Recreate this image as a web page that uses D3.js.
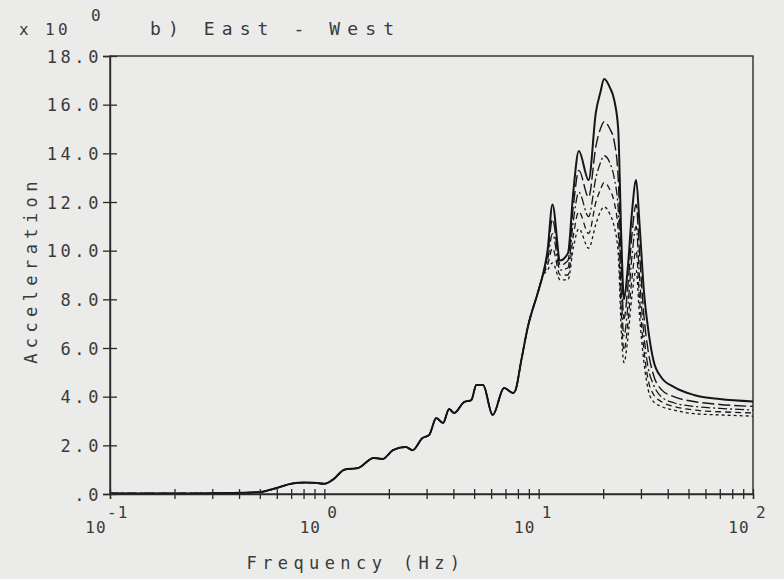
<!DOCTYPE html>
<html>
<head>
<meta charset="utf-8">
<script src="https://cdn.jsdelivr.net/npm/d3@7"></script>
<style>
  html, body { margin: 0; padding: 0; background: #ebebe9; }
  svg { display: block; }
  text { font-family: "DejaVu Sans Mono", monospace; fill: #3a3a3a; }
</style>
</head>
<body>
<svg id="chart" width="784" height="579"></svg>
<script>
// Response spectrum, East-West component (frequency in Hz, acceleration x 10^0)

// Shared low-frequency part: all damping curves coincide below ~10 Hz
const baseFreq = [0.1, 0.2, 0.3, 0.4, 0.5, 0.6, 0.7, 0.8, 0.9, 1.0, 1.1, 1.24, 1.44, 1.7, 1.87,
  2.09, 2.4, 2.58, 2.87, 3.08, 3.33, 3.58, 3.82, 4.03, 4.49, 4.85, 5.12, 5.5, 6.1, 6.9,
  7.6, 7.8, 8.3, 8.9, 9.9, 10.4];
const baseAccel = [0.02, 0.02, 0.03, 0.05, 0.08, 0.25, 0.42, 0.47, 0.46, 0.42, 0.6, 1.0, 1.07, 1.48, 1.44,
  1.8, 1.93, 1.8, 2.3, 2.42, 3.12, 2.92, 3.49, 3.33, 3.78, 3.86, 4.48, 4.48, 3.25, 4.36,
  4.15, 4.27, 5.5, 6.86, 8.26, 8.92];

// High-frequency part, where the curves separate
const highFreq = [11.0, 11.6, 12.6, 13.7, 14.5, 15.4, 17.1, 18.5, 19.4, 20.2, 21.5, 22.5, 23.5, 24.3,
  25.0, 26.0, 27.2, 28.5, 29.5, 31.0, 32.4, 34.3, 37.3, 42.7, 53, 70, 100];
const accelSolid = [10.0, 11.9, 9.6, 9.9, 12.4, 14.1, 12.9, 15.7, 16.5, 17.05, 16.7, 16.2, 15.0, 10.5,
  8.0, 9.2, 11.5, 12.9, 11.2, 8.3, 6.8, 5.5, 4.8, 4.4, 4.07, 3.9, 3.8];
const accelLongDash = [9.8, 11.3, 9.4, 9.6, 11.8, 13.3, 12.2, 14.3, 15.0, 15.3, 15.0, 14.5, 13.0, 9.2,
  7.2, 8.4, 10.6, 11.9, 10.0, 7.3, 5.9, 4.9, 4.3, 4.0, 3.8, 3.68, 3.6];
const accelDashDot = [9.6, 10.7, 9.2, 9.3, 11.2, 12.4, 11.4, 13.0, 13.6, 13.9, 13.6, 13.0, 11.7, 8.2,
  6.5, 7.6, 9.7, 11.0, 9.0, 6.5, 5.2, 4.5, 4.0, 3.75, 3.6, 3.52, 3.45];
const accelShortDash = [9.4, 10.1, 9.0, 9.0, 10.6, 11.6, 10.7, 12.0, 12.5, 12.8, 12.5, 12.0, 10.8, 7.4,
  5.9, 6.9, 8.8, 10.0, 8.1, 5.9, 4.7, 4.1, 3.8, 3.6, 3.45, 3.38, 3.33];
const accelDotted = [9.2, 9.5, 8.8, 8.8, 10.1, 10.9, 10.1, 11.1, 11.6, 11.8, 11.5, 11.0, 9.9, 6.7,
  5.4, 6.3, 8.1, 9.2, 7.4, 5.4, 4.3, 3.8, 3.6, 3.45, 3.3, 3.25, 3.2];

const yTicks = [0, 2, 4, 6, 8, 10, 12, 14, 16, 18];
const decades = [-1, 0, 1, 2];

const seriesList = [
  { values: accelDotted,    dash: "3,3",      width: 1.3 },
  { values: accelShortDash, dash: "6,4",      width: 1.3 },
  { values: accelDashDot,   dash: "9,3,2,3",  width: 1.3 },
  { values: accelLongDash,  dash: "12,4",     width: 1.4 },
  { values: accelSolid,     dash: null,       width: 2.0 }
];

const margin = { left: 110, right: 31, top: 56, bottom: 85 };
const W = 784, H = 579;
const svg = d3.select("#chart");

const x = d3.scaleLog().domain([0.1, 100]).range([margin.left, W - margin.right]);
const y = d3.scaleLinear().domain([0, 18]).range([H - margin.bottom, margin.top]);

// frame
svg.append("rect")
  .attr("x", x(0.1)).attr("y", y(18))
  .attr("width", x(100) - x(0.1)).attr("height", y(0) - y(18))
  .attr("fill", "none").attr("stroke", "#2a2a2a").attr("stroke-width", 1.4);

// curves
const line = d3.line()
  .x(d => x(d[0])).y(d => y(d[1]))
  .curve(d3.curveMonotoneX);

seriesList.forEach(s => {
  const pts = baseFreq.map((f, i) => [f, baseAccel[i]])
    .concat(highFreq.map((f, i) => [f, s.values[i]]));
  svg.append("path")
    .datum(pts)
    .attr("d", line)
    .attr("fill", "none")
    .attr("stroke", "#161616")
    .attr("stroke-width", s.width)
    .attr("stroke-dasharray", s.dash)
    .attr("stroke-linejoin", "round");
});

// y axis with crossing ticks
const yAxis = svg.append("g")
  .attr("transform", `translate(${x(0.1)},0)`)
  .call(d3.axisLeft(y).tickValues(yTicks).tickSize(7)
    .tickFormat(d => d === 0 ? ".0" : d.toFixed(1)));
yAxis.select(".domain").attr("stroke", "#2a2a2a").attr("stroke-width", 1.4);
yAxis.selectAll(".tick line").attr("x1", -7).attr("x2", 7)
  .attr("stroke", "#2a2a2a").attr("stroke-width", 1.3);
yAxis.selectAll(".tick text")
  .attr("x", -8)
  .attr("dy", "0.36em")
  .style("font-size", "17px")
  .style("letter-spacing", "3.6px")
  .style("font-family", "'DejaVu Sans Mono', monospace")
  .attr("fill", "#3a3a3a");

// x axis: log ticks as short crossing marks
const logTicks = [];
for (let e = -1; e < 2; e++) {
  for (let m = 1; m < 10; m++) logTicks.push(m * Math.pow(10, e));
}
logTicks.push(100);
const xAxis = svg.append("g")
  .attr("transform", `translate(0,${y(0)})`)
  .call(d3.axisBottom(x).tickValues(logTicks).tickSize(5).tickFormat(""));
xAxis.select(".domain").attr("stroke", "#2a2a2a").attr("stroke-width", 1.4);
xAxis.selectAll(".tick line").attr("y1", -5).attr("y2", 5)
  .attr("stroke", "#2a2a2a").attr("stroke-width", 1.3);

// decade labels 10^n
const decadeLabels = svg.append("g");
decades.forEach(e => {
  const px = x(Math.pow(10, e));
  decadeLabels.append("text")
    .attr("x", px - 14).attr("y", 533)
    .attr("text-anchor", "middle")
    .style("font-size", "16px")
    .style("letter-spacing", "1px")
    .text("10");
  decadeLabels.append("text")
    .attr("x", px + (e < 0 ? -3 : 3)).attr("y", 518)
    .style("font-size", "16px")
    .style("letter-spacing", "1px")
    .text(e < 0 ? "-1" : String(e));
});

// axis titles
svg.append("text")
  .attr("x", 356).attr("y", 569)
  .attr("text-anchor", "middle")
  .style("font-size", "17px")
  .style("letter-spacing", "5.4px")
  .text("Frequency (Hz)");

svg.append("text")
  .attr("transform", "translate(37,270) rotate(-90)")
  .attr("text-anchor", "middle")
  .style("font-size", "17px")
  .style("letter-spacing", "5.4px")
  .text("Acceleration");

// scale factor and panel title
svg.append("text")
  .attr("x", 19).attr("y", 35)
  .style("font-size", "16px")
  .style("letter-spacing", "3.4px")
  .text("x 10");
svg.append("text")
  .attr("x", 91).attr("y", 21)
  .style("font-size", "16px")
  .text("0");
svg.append("text")
  .attr("x", 150).attr("y", 35)
  .style("font-size", "18px")
  .style("letter-spacing", "7.1px")
  .text("b) East - West");
</script>
</body>
</html>
